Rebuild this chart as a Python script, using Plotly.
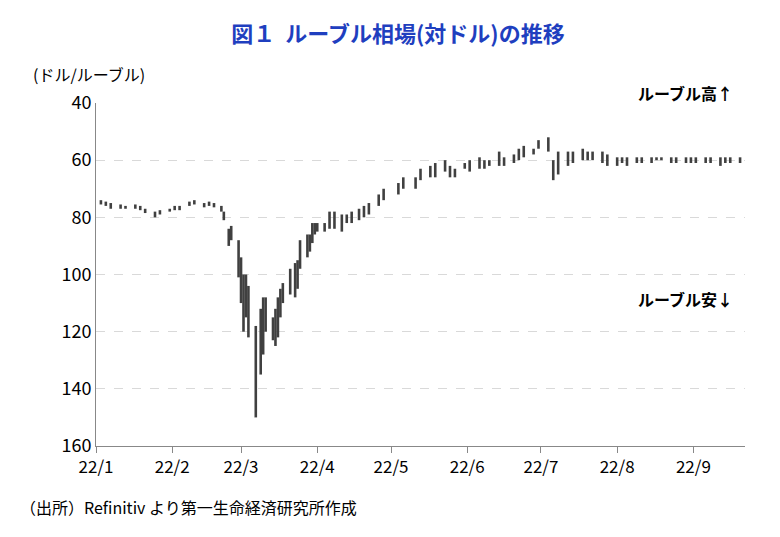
import plotly.graph_objects as go

dates = ["2022-01-03","2022-01-05","2022-01-07","2022-01-11","2022-01-13","2022-01-17","2022-01-19","2022-01-21","2022-01-25","2022-01-27","2022-01-31",
"2022-02-02","2022-02-04","2022-02-08","2022-02-10","2022-02-14","2022-02-16","2022-02-18","2022-02-21","2022-02-22","2022-02-24","2022-02-25","2022-02-28",
"2022-03-01","2022-03-02","2022-03-03","2022-03-04","2022-03-07","2022-03-09","2022-03-10","2022-03-11","2022-03-14","2022-03-15","2022-03-16","2022-03-17","2022-03-18",
"2022-03-21","2022-03-23","2022-03-24","2022-03-25","2022-03-28","2022-03-29","2022-03-30","2022-03-31",
"2022-04-01","2022-04-04","2022-04-06","2022-04-08","2022-04-11","2022-04-13","2022-04-15","2022-04-18","2022-04-20","2022-04-22","2022-04-26","2022-04-28",
"2022-05-04","2022-05-06","2022-05-11","2022-05-13","2022-05-17","2022-05-19","2022-05-23","2022-05-25","2022-05-27","2022-05-31",
"2022-06-02","2022-06-06","2022-06-08","2022-06-10","2022-06-14","2022-06-16","2022-06-20","2022-06-22","2022-06-24","2022-06-28","2022-06-30",
"2022-07-04","2022-07-06","2022-07-08","2022-07-12","2022-07-14","2022-07-18","2022-07-20","2022-07-22","2022-07-26","2022-07-28",
"2022-08-01","2022-08-03","2022-08-05","2022-08-09","2022-08-11","2022-08-15","2022-08-17","2022-08-19","2022-08-23","2022-08-25","2022-08-29","2022-08-31",
"2022-09-02","2022-09-06","2022-09-08","2022-09-12","2022-09-14","2022-09-16","2022-09-20"]
low = [74,74.5,75,75.5,76,75.5,76,77,78,77.5,77,
76,76,74.5,74,75,74.5,75,76,78,84,83,88,
94,100,100,104,118,112,108,108,115,112,108,105,103,
98,96,95,88,86,86,82,82,
82,82,78,78,79,79,78,77,76,75,72,70,
68,66,66,63,62,61,60,62,63,61,
60,59,60,60,57,59,58,56,55,56,53,
52,60,57,57,57,56,57,57,57,58,
59,59,59,59,59,59,59,59,59,59,59,59,
59,59,59,59,59,59,59]
high = [75.5,76,77,77,77,77,77.5,78.5,80,79,78,
77.5,77.5,76,75.5,76.5,76,76.5,78,81,90,88,101,
110,120,115,122,150,135,128,120,123,125,122,115,110,
107,108,105,98,94,92,89,86,
85,85,84,84,85,82,82,81,80,79,76,74,
72,70,70,67,66,66,64,66,66,63,
64,63,63,62,62,62,61,60,59,58,56,
57,67,65,62,61,60,60,60,61,62,
62,61,62,61,61,61,60,60,61,61,61,61,
61,61,61,62,61,61,61]

xs, ys = [], []
for d, lo, hi in zip(dates, low, high):
    xs += [d, d, None]
    ys += [lo, hi, None]

fig = go.Figure(go.Scatter(x=xs, y=ys, mode="lines", line=dict(color="#404040", width=2.6),
                           connectgaps=False, hoverinfo="skip"))
tickvals = ["2022-01-01","2022-02-01","2022-03-01","2022-04-01","2022-05-01","2022-06-01","2022-07-01","2022-08-01","2022-09-01"]
ticktext = ["22/1","22/2","22/3","22/4","22/5","22/6","22/7","22/8","22/9"]
f = "Noto Sans CJK JP"
fig.update_layout(
    width=780, height=537, plot_bgcolor="white", paper_bgcolor="white", showlegend=False,
    margin=dict(l=88, r=43, t=95, b=99, autoexpand=False),
    font=dict(family=f, size=16, color="black"),
    title=dict(text="<b>図１  ルーブル相場(対ドル)の推移</b>", x=0.5, y=0.965, xanchor="center",
               font=dict(size=22, color="#1f3fbf", family=f)),
    xaxis=dict(range=["2022-01-01","2022-09-22"], tickvals=tickvals, ticktext=ticktext,
               showgrid=False, showline=True, linecolor="#888", ticks="outside", ticklen=6,
               tickcolor="#888", tickfont=dict(size=17), automargin=False),
    yaxis=dict(range=[160,40], tickvals=[40,60,80,100,120,140,160], showline=True, linecolor="#888",
               gridcolor="#d9d9d9", griddash="dash", zeroline=False, tickfont=dict(size=18), automargin=False),
    annotations=[
        dict(text="(ドル/ルーブル)", xref="paper", yref="paper", x=-0.1, y=1.125, showarrow=False, xanchor="left", font=dict(size=16)),
        dict(text="<b>ルーブル高↑</b>", xref="paper", yref="paper", x=0.985, y=1.07, showarrow=False, xanchor="right", font=dict(size=16)),
        dict(text="<b>ルーブル安↓</b>", xref="paper", yref="paper", x=0.985, y=0.43, showarrow=False, xanchor="right", font=dict(size=16)),
        dict(text="（出所）Refinitiv より第一生命経済研究所作成", xref="paper", yref="paper", x=-0.12, y=-0.22, showarrow=False, xanchor="left", font=dict(size=16)),
    ])
fig.write_html("out.html")
